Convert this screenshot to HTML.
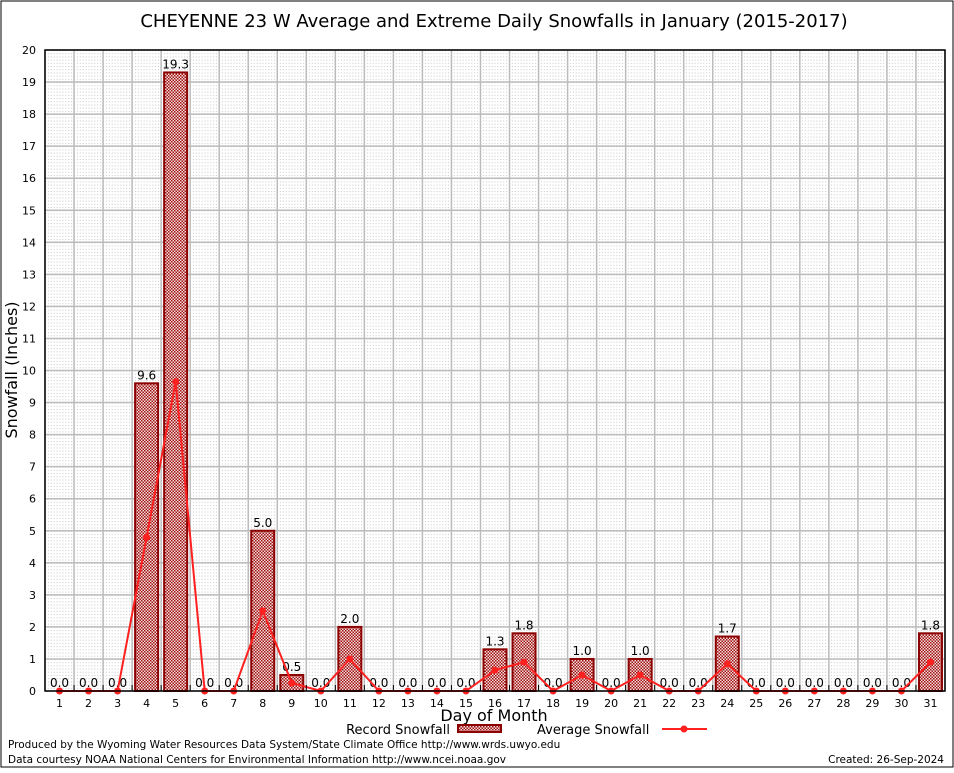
<!DOCTYPE html>
<html><head><meta charset="utf-8"><style>
body{margin:0;background:#fff}
svg text{font-family:"DejaVu Sans","Liberation Sans",sans-serif}
</style></head><body>
<svg id="c" width="954" height="768" xmlns="http://www.w3.org/2000/svg">
<defs>
<pattern id="hatch" width="3" height="3" patternUnits="userSpaceOnUse">
<rect width="3" height="3" fill="#f2dede"/><rect width="1.5" height="1.5" fill="#a01010"/><rect x="1.5" y="1.5" width="1.5" height="1.5" fill="#a01010"/>
</pattern>
<pattern id="minor" width="2.9" height="3.205" patternUnits="userSpaceOnUse" x="45" y="50">
<rect width="2.9" height="3.205" fill="#fff"/><rect width="1" height="1" fill="#c8c8c8"/>
</pattern>
</defs>
<rect x="1" y="1" width="952" height="766" fill="#fff" stroke="#000" stroke-width="1"/>
<text x="494" y="27" font-size="18" text-anchor="middle">CHEYENNE 23 W Average and Extreme Daily Snowfalls in January (2015-2017)</text>
<rect x="45" y="50" width="900" height="641" fill="url(#minor)"/>
<g id="grid"></g>
<g id="bars"></g>
<g id="line"></g>
<g id="axes"></g>
<text x="17" y="370" font-size="16" text-anchor="middle" transform="rotate(-90 17 370)">Snowfall (Inches)</text>
<text x="494" y="721" font-size="16" text-anchor="middle">Day of Month</text>
<g>
<text x="450" y="734" font-size="13" text-anchor="end">Record Snowfall</text>
<rect x="458" y="725" width="43" height="7" fill="url(#hatch)" stroke="#8b0000" stroke-width="2"/>
<text x="537" y="734" font-size="13">Average Snowfall</text>
<line x1="662" y1="729" x2="707" y2="729" stroke="#ff2020" stroke-width="2"/>
<circle cx="684" cy="729" r="3.5" fill="#ff2020"/>
</g>
<text x="8" y="748" font-size="10.5">Produced by the Wyoming Water Resources Data System/State Climate Office http://www.wrds.uwyo.edu</text>
<text x="8" y="763" font-size="10.5">Data courtesy NOAA National Centers for Environmental Information http://www.ncei.noaa.gov</text>
<text x="944" y="763" font-size="10.5" text-anchor="end">Created: 26-Sep-2024</text>
</svg>
<script>
const days=[1,2,3,4,5,6,7,8,9,10,11,12,13,14,15,16,17,18,19,20,21,22,23,24,25,26,27,28,29,30,31];
const recordSnow=[0,0,0,9.6,19.3,0,0,5.0,0.5,0,2.0,0,0,0,0,1.3,1.8,0,1.0,0,1.0,0,0,1.7,0,0,0,0,0,0,1.8];
const avgSnow=[0,0,0,4.8,9.65,0,0,2.5,0.25,0,1.0,0,0,0,0,0.65,0.9,0,0.5,0,0.5,0,0,0.85,0,0,0,0,0,0,0.9];
const yTicks=[0,1,2,3,4,5,6,7,8,9,10,11,12,13,14,15,16,17,18,19,20];
const NS='http://www.w3.org/2000/svg';
const L=45,R=945,T=50,B=691,yMax=20;
const step=(R-L)/days.length;
function xs(d){return L+(d-0.5)*step;}
function ys(v){return B-(v/yMax)*(B-T);}
function mk(tag,attrs,parent){const e=document.createElementNS(NS,tag);for(const k in attrs)e.setAttribute(k,attrs[k]);parent.appendChild(e);return e;}
const grid=document.getElementById('grid'),bars=document.getElementById('bars'),line=document.getElementById('line'),axes=document.getElementById('axes');
yTicks.forEach(v=>{
 const g=mk('line',{x1:L,x2:R,y1:ys(v),y2:ys(v),stroke:'#bbb','stroke-width':1.5},grid);
 
 
 const t=mk('text',{x:L-9,y:ys(v)+4,'font-size':11,'text-anchor':'end','font-family':'Liberation Serif,serif'},axes);
 t.textContent=v;
 
 
});
for(let i=0;i<=days.length;i++){
 const x=L+i*step;
 const g=mk('line',{x1:x,x2:x,y1:T,y2:B,stroke:'#bbb','stroke-width':1.5},grid);
 
 
 const tk=mk('line',{x1:x,x2:x,y1:B,y2:B-6,stroke:'#000'},axes);
 
 
}
days.forEach((d,i)=>{
 const v=recordSnow[i];
 if(v>0){
  const r=mk('rect',{x:xs(d)-11.5,y:ys(v),width:23,height:B-ys(v),fill:'url(#hatch)',stroke:'#8b0000','stroke-width':2},bars);
  
  
 }
 const t=mk('text',{x:xs(d),y:ys(v)-4,'font-size':12,'text-anchor':'middle'},bars);
 t.textContent=v.toFixed(1);
 
 
 const xl=mk('text',{x:xs(d),y:B+16,'font-size':11,'text-anchor':'middle','font-family':'Liberation Serif,serif'},axes);
 xl.textContent=d;
 
 
});
const pl=mk('polyline',{points:days.map((d,i)=>xs(d)+','+ys(avgSnow[i])).join(' '),fill:'none',stroke:'#ff2020','stroke-width':2},line);


days.forEach((d,i)=>{
 const c=mk('circle',{cx:xs(d),cy:ys(avgSnow[i]),r:3.5,fill:'#ff2020'},line);
 
 
});
const box=mk('rect',{x:L,y:T,width:R-L,height:B-T,fill:'none',stroke:'#000','stroke-width':1.5},axes);


</script>
</body></html>
